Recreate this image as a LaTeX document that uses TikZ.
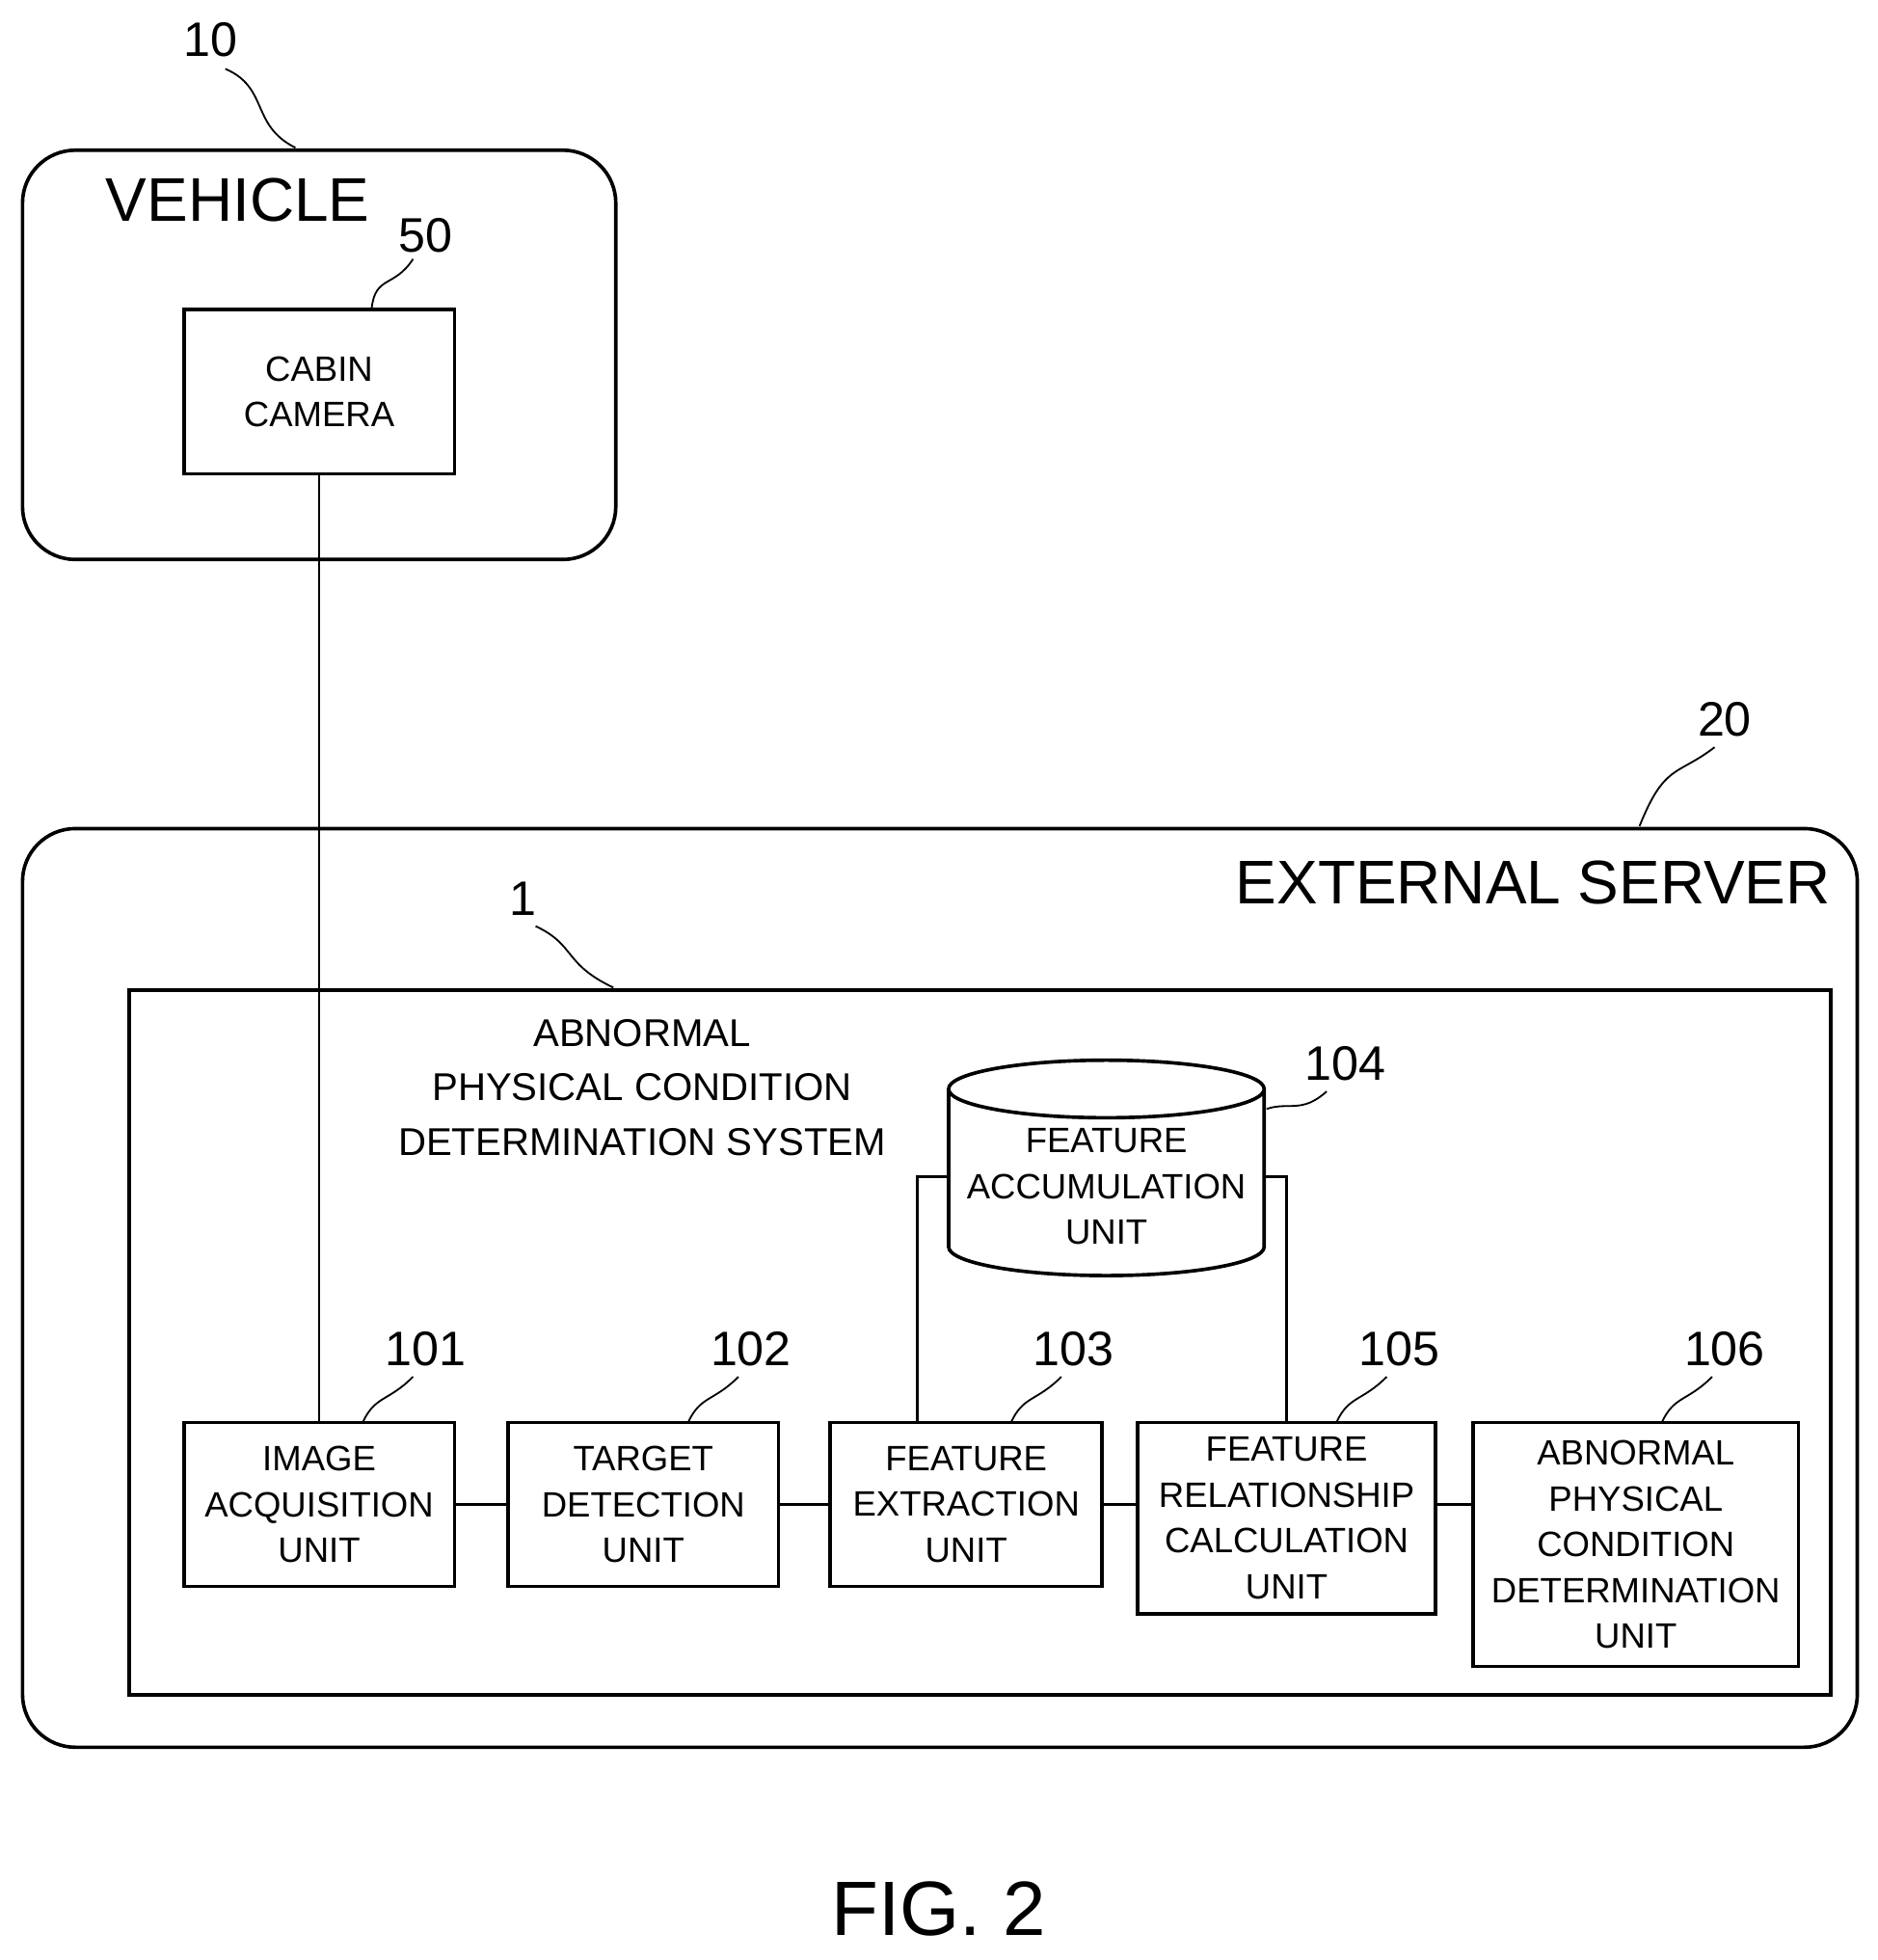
\documentclass[tikz,border=0pt]{standalone}
\usepackage{fontspec}
\setmainfont{Liberation Sans}
\usetikzlibrary{shapes.geometric, positioning}

\begin{document}
\begin{tikzpicture}[x=0.01cm, y=-0.01cm,
					semithick,
					unit/.style={draw, thick, align=center, font=\fontsize{8}{10.4}\selectfont},
					ref/.style={font=\fontsize{11}{13}\selectfont},
					big/.style={font=\fontsize{14}{17}\selectfont},
					leader/.style={thin}]

	\useasboundingbox (0,0) rectangle (1500,1566);

	% frames
	\draw[thick, rounded corners=12] (18,120) rectangle (492,447);
	\draw[thick, rounded corners=12] (18,662) rectangle (1484,1396);
	\draw[thick] (103,791) rectangle (1463,1354);

	\node[big] (veh) at (190,160) {VEHICLE};
	\node[big] (ext) at (1225,705) {EXTERNAL SERVER};
	\node[align=center, font=\fontsize{8.8}{12.4}\selectfont] (sys) at (513,869) {ABNORMAL\\PHYSICAL CONDITION\\DETERMINATION SYSTEM};

	% units
	\node[unit, minimum width=2.16cm, minimum height=1.31cm] (cam) at (255,313) {CABIN\\CAMERA};
	\node[unit, minimum width=2.16cm, minimum height=1.31cm] (u101) at (255,1202) {IMAGE\\ACQUISITION\\UNIT};
	\node[unit, minimum width=2.16cm, minimum height=1.31cm] (u102) at (514,1202) {TARGET\\DETECTION\\UNIT};
	\node[unit, minimum width=2.17cm, minimum height=1.31cm] (u103) at (772,1202) {FEATURE\\EXTRACTION\\UNIT};
	\node[unit, minimum width=2.38cm, minimum height=1.53cm] (u105) at (1028,1213) {FEATURE\\RELATIONSHIP\\CALCULATION\\UNIT};
	\node[unit, minimum width=2.60cm, minimum height=1.95cm] (u106) at (1307,1234) {ABNORMAL\\PHYSICAL\\CONDITION\\DETERMINATION\\UNIT};
	\node[unit, cylinder, shape border rotate=90, aspect=0.2, inner sep=1pt, minimum width=2.52cm, minimum height=1.72cm] (u104) at (884,948) {FEATURE\\ACCUMULATION\\UNIT};

	% connectors
	\draw (cam.south) -- (u101.north);
	\draw (u101) -- (u102);
	\draw (u102) -- (u103);
	\draw (u103) -- (u103.east -| u105.west);
	\draw (u105.east |- u101) -- (u106.west |- u101);
	\draw (u103.north -| 733,0) |- (u104.west |- 0,940);
	\draw (u105.north) |- (u104.east |- 0,940);

	% reference numerals
	\node[ref] (n10) at (168,32) {10};
	\node[ref] (n50) at (340,188) {50};
	\node[ref] (n20) at (1378,575) {20};
	\node[ref] (n1) at (418,718) {1};
	\node[ref] (n104) at (1075,850) {104};
	\node[ref] (n101) at (340,1078) {101};
	\node[ref] (n102) at (600,1078) {102};
	\node[ref] (n103) at (858,1078) {103};
	\node[ref] (n105) at (1118,1078) {105};
	\node[ref] (n106) at (1378,1078) {106};
	\draw[leader] (180,55) .. controls (215,70) and (200,100) .. (236,118);
	\draw[leader] (330,207) .. controls (315,230) and (300,220) .. (297,246);
	\draw[leader] (1370,597) .. controls (1340,620) and (1330,610) .. (1310,660);
	\draw[leader] (428,740) .. controls (460,755) and (450,770) .. (490,789);
	\draw[leader] (1060,872) .. controls (1040,890) and (1030,880) .. (1012,886);
	\draw[leader] (330,1100) .. controls (310,1120) and (300,1115) .. (290,1136);
	\draw[leader] (590,1100) .. controls (570,1120) and (560,1115) .. (550,1136);
	\draw[leader] (848,1100) .. controls (828,1120) and (818,1115) .. (808,1136);
	\draw[leader] (1108,1100) .. controls (1088,1120) and (1078,1115) .. (1068,1136);
	\draw[leader] (1368,1100) .. controls (1348,1120) and (1338,1115) .. (1328,1136);

	\node[font=\fontsize{17.5}{20}\selectfont] (fig) at (750,1525) {FIG. 2};
\end{tikzpicture}
\end{document}
